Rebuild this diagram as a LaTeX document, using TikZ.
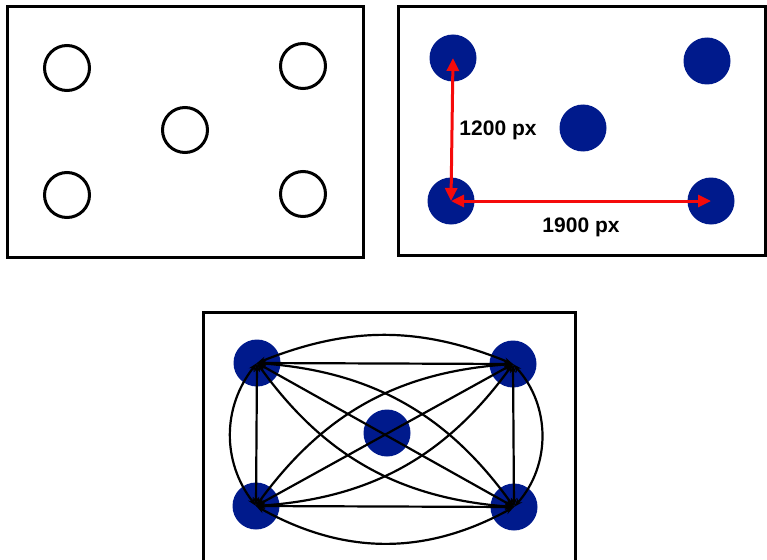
\documentclass[tikz,border=0pt]{standalone}
\usepackage{fontspec}
\setmainfont{Liberation Sans}
\usetikzlibrary{arrows.meta}
\definecolor{spotblue}{RGB}{0,26,140}
\definecolor{measred}{RGB}{245,10,10}

\begin{document}
\begin{tikzpicture}[x=1pt,y=-1pt,
  frame/.style={line width=3pt},
  hole/.style={circle,draw,line width=3pt,minimum size=45pt,inner sep=0pt},
  spot/.style={circle,fill=spotblue,minimum size=47pt,inner sep=0pt},
  meas/.style={measred,line width=3pt,{Triangle[length=13pt,width=12pt]}-{Triangle[length=13pt,width=12pt]}},
  link/.style={line width=2.2pt,{Stealth[length=9pt,width=6pt]}-{Stealth[length=9pt,width=6pt]}},
  lbl/.style={font=\fontsize{21}{25}\selectfont\bfseries}]
\useasboundingbox (0,0) rectangle (767,559);
% empty plate
\draw[frame] (7,7) rectangle (363,257);
\foreach \n/\x/\y in {a1/67/68,a2/303/66,a3/185/130,a4/67/195,a5/303/194}
  \node[hole] (\n) at (\x,\y) {};
% measured plate
\draw[frame] (398,7) rectangle (765,255);
\foreach \n/\x/\y in {b1/453/58,b2/707/61,b3/583/128,b4/451/201,b5/711/201}
  \node[spot] (\n) at (\x,\y) {};
\draw[meas] (b1.center) -- (b4.center);
\draw[meas] (b4.center) -- (b5.center);
\node[lbl] (h) at (498,130) {1200 px};
\node[lbl] (w) at (581,227) {1900 px};
% all pairs
\draw[frame] (203,562) -- (203,312) -- (575,312) -- (575,562);
\foreach \n/\x/\y in {c1/257/363,c2/513/364,c3/387/433,c4/256/506,c5/514/507}
  \node[spot] (\n) at (\x,\y) {};
\foreach \a/\b in {c1/c2,c1/c4,c2/c5,c4/c5,c1/c5,c4/c2}
  \draw[link] (\a.center) -- (\b.center);
\draw[link] (c1.center) to[bend left=22] (c2.center);
\draw[link] (c1.center) to[bend right=38] (c4.center);
\draw[link] (c2.center) to[bend left=42] (c5.center);
\draw[link] (c4.center) to[bend right=29] (c5.center);
\draw[link] (c1.center) to[bend left=25] (c5.center);
\draw[link] (c1.center) to[bend right=25] (c5.center);
\draw[link] (c4.center) to[bend left=25] (c2.center);
\draw[link] (c4.center) to[bend right=25] (c2.center);
\end{tikzpicture}
\end{document}
